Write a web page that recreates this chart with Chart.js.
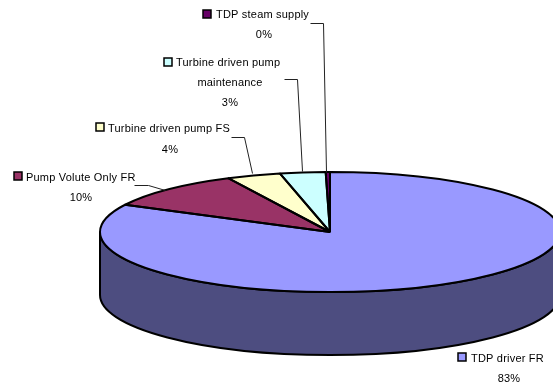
<!DOCTYPE html>
<html>
<head>
<meta charset="utf-8">
<title>Failure contribution</title>
<style>
    html, body { margin: 0; padding: 0; background: #fff; }
    canvas { display: block; }
</style>
<script src="https://cdn.jsdelivr.net/npm/chart.js@4/dist/chart.umd.js"></script>
</head>
<body>
<canvas id="chart__failures" width="553" height="388"></canvas>
<script>
const categories = [
    'TDP driver FR',
    'Pump Volute Only FR',
    'Turbine driven pump FS',
    'Turbine driven pump maintenance',
    'TDP steam supply',
];
const shares = [82.5, 10.2, 3.8, 3.2, 0.3];
const sliceColors = ['#9999FF', '#993366', '#FFFFCC', '#CCFFFF', '#660066'];
const wallColor = '#4D4D80';

// callouts, same order as categories
const callouts = [
    { key: [458, 353], lines: ['TDP driver FR'], textX: 471, textY: 359, pctX: 509, pctY: 379, leader: [] },
    { key: [14, 172], lines: ['Pump Volute Only FR'], textX: 26, textY: 178, pctX: 81, pctY: 198, leader: [[134, 185], [148, 185], [165, 190]] },
    { key: [96, 123], lines: ['Turbine driven pump FS'], textX: 108, textY: 129, pctX: 170, pctY: 150, leader: [[231, 137], [244, 137], [252, 173]] },
    { key: [164, 58], lines: ['Turbine driven pump', 'maintenance'], textX: 176, textY: 63, pctX: 230, pctY: 103, leader: [[284, 79], [297, 79], [302, 171]] },
    { key: [203, 10], lines: ['TDP steam supply'], textX: 216, textY: 15, pctX: 264, pctY: 35, leader: [[310, 23], [323, 23], [326, 172]] },
];

const TILT = 60 / 230;
const DEPTH = 63;
const LABEL_FONT = '11px "Liberation Sans", Arial, sans-serif';

const tiltedPie = {
    id: 'tiltedPie',
    // side wall goes under the top face
    beforeDatasetsDraw (chart) {
        const ctx = chart.ctx;
        chart.getDatasetMeta(0).data.forEach(arc => {
            const { x, y, startAngle, endAngle, outerRadius } = arc;
            const a = Math.max(startAngle, 0);
            const b = Math.min(endAngle, Math.PI);
            if (b <= a) return;
            ctx.save();
            ctx.beginPath();
            ctx.ellipse(x, y, outerRadius, outerRadius * TILT, 0, a, b);
            ctx.ellipse(x, y + DEPTH, outerRadius, outerRadius * TILT, 0, b, a, true);
            ctx.closePath();
            ctx.fillStyle = wallColor;
            ctx.fill();
            ctx.lineWidth = 2;
            ctx.strokeStyle = '#000';
            ctx.stroke();
            ctx.restore();
        });
    },
    // the slices are drawn by the controller inside a squashed context
    beforeDatasetDraw (chart, args) {
        const ctx = chart.ctx;
        const { x, y } = args.meta.data[0];
        ctx.save();
        ctx.translate(x, y);
        ctx.scale(1, TILT);
        ctx.translate(-x, -y);
    },
    afterDatasetDraw (chart, args) {
        const ctx = chart.ctx;
        ctx.restore();
        // outlines stroked unsquashed so the line width stays even
        args.meta.data.forEach(arc => {
            const { x, y, startAngle, endAngle, outerRadius } = arc;
            ctx.save();
            ctx.beginPath();
            ctx.moveTo(x, y);
            ctx.ellipse(x, y, outerRadius, outerRadius * TILT, 0, startAngle, endAngle);
            ctx.closePath();
            ctx.lineWidth = 2;
            ctx.lineJoin = 'bevel';
            ctx.strokeStyle = '#000';
            ctx.stroke();
            ctx.restore();
        });
    },
};

const pieCallouts = {
    id: 'pieCallouts',
    afterDraw (chart) {
        const ctx = chart.ctx;
        const total = shares.reduce((sum, v) => sum + v, 0);
        ctx.save();
        ctx.font = LABEL_FONT;
        ctx.letterSpacing = '0.2px';
        ctx.fillStyle = '#000';
        ctx.textBaseline = 'middle';
        callouts.forEach((c, i) => {
            // leader line
            if (c.leader.length) {
                ctx.beginPath();
                c.leader.forEach(([px, py], n) => n ? ctx.lineTo(px + 0.5, py + 0.5) : ctx.moveTo(px + 0.5, py + 0.5));
                ctx.lineWidth = 1;
                ctx.strokeStyle = '#222';
                ctx.stroke();
            }
            // legend key
            ctx.fillStyle = sliceColors[i];
            ctx.fillRect(c.key[0], c.key[1], 8, 8);
            ctx.lineWidth = 1.5;
            ctx.strokeStyle = '#000';
            ctx.strokeRect(c.key[0], c.key[1], 8, 8);

            ctx.fillStyle = '#000';
            ctx.textAlign = 'left';
            ctx.fillText(c.lines[0], c.textX, c.textY);
            ctx.textAlign = 'center';
            if (c.lines[1]) ctx.fillText(c.lines[1], c.pctX, c.textY + 20);
            ctx.fillText(Math.round(shares[i] / total * 100) + '%', c.pctX, c.pctY);
        });
        ctx.restore();
    },
};

new Chart(document.getElementById('chart__failures'), {
    type: 'pie',
    data: {
        labels: categories,
        datasets: [{
            data: shares,
            backgroundColor: sliceColors,
            borderWidth: 0,
            clip: false,
            radius: 230,
        }],
    },
    options: {
        responsive: false,
        animation: false,
        layout: { padding: { left: 107, top: 76 } },
        plugins: {
            legend: { display: false },
            tooltip: { enabled: false },
        },
    },
    plugins: [tiltedPie, pieCallouts],
});
</script>
</body>
</html>
